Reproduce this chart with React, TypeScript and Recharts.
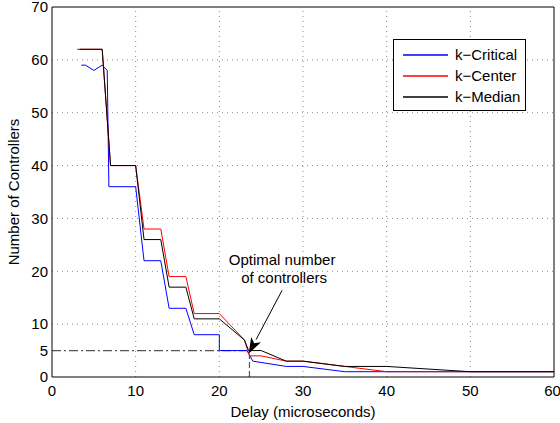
import React from 'react';
import { LineChart, Line, XAxis, YAxis, ReferenceLine } from 'recharts';

// k-Critical (blue)
const criticalDelay = [3.5, 4, 5, 6, 6.6, 6.8, 10, 11, 13, 14, 16, 17, 20, 20, 23.3, 24, 28, 30, 35, 60];
const criticalCount = [59, 59, 58, 59, 58, 36, 36, 22, 22, 13, 13, 8, 8, 5, 5, 3, 2, 2, 1, 1];

// k-Center (red)
const centerDelay = [3, 6, 7, 10, 11, 13, 14, 16, 17, 20, 23, 23.6, 25, 28, 30, 35, 40, 60];
const centerCount = [62, 62, 40, 40, 28, 28, 19, 19, 12, 12, 7, 4, 4, 3, 3, 2, 1, 1];

// k-Median (black)
const medianDelay = [3.3, 6, 7, 10, 11, 13, 14, 16, 17, 20, 23, 23.5, 25, 28, 30, 35, 40, 50, 60];
const medianCount = [62, 62, 40, 40, 26, 26, 17, 17, 11, 11, 7, 5, 5, 3, 3, 2, 2, 1, 1];

const seriesNames = ['k−Critical', 'k−Center', 'k−Median'];
const seriesColors = ['#0000ff', '#ff0000', '#000000'];

const xTicks = [0, 10, 20, 30, 40, 50, 60];
const yTicks = [0, 5, 10, 20, 30, 40, 50, 60, 70];
const xGrid = [10, 20, 30, 40, 50];
const yGrid = [10, 20, 30, 40, 50, 60];

const optimalDelay = 23.5;
const optimalCount = 5;

const toRows = (xs: number[], ys: number[]) => xs.map((x, i) => ({ x, y: ys[i] }));

const FONT = '"Liberation Sans", Arial, Helvetica, sans-serif';

const ArrowShape = (props: any) => {
  const { x1, y1, x2, y2 } = props;
  const ang = Math.atan2(y2 - y1, x2 - x1);
  const len = 16;
  const w = 5.5;
  const bx = x2 - len * Math.cos(ang);
  const by = y2 - len * Math.sin(ang);
  const px = -Math.sin(ang) * w;
  const py = Math.cos(ang) * w;
  return (
    <g>
      <line x1={x1} y1={y1} x2={bx} y2={by} stroke="#000" strokeWidth={1} />
      <polygon points={`${x2},${y2} ${bx + px},${by + py} ${bx + (x2 - bx) * 0.25},${by + (y2 - by) * 0.25} ${bx - px},${by - py}`} fill="#000" />
      <text x={x1} y={y1 - 25} textAnchor="middle" fontSize={15} fontFamily={FONT} fill="#000">Optimal number</text>
      <text x={x1 + 2} y={y1 - 7} textAnchor="middle" fontSize={15} fontFamily={FONT} fill="#000">of controllers</text>
    </g>
  );
};

export default function App() {
  return (
    <div style={{ position: 'absolute', left: 0, top: 0, width: 560, height: 423, background: '#fff' }}>
      <LineChart width={560} height={423} margin={{ top: 7, right: 6, left: 0, bottom: 0 }}>
        <XAxis
          dataKey="x"
          type="number"
          domain={[0, 60]}
          ticks={xTicks}
          allowDuplicatedCategory={false}
          stroke="#000"
          tickLine={false}
          tick={{ fill: '#000', fontSize: 15, fontFamily: FONT }}
          height={46}
          label={{ value: 'Delay (microseconds)', position: 'insideBottom', offset: 6, fill: '#000', fontSize: 15, fontFamily: FONT }}
        />
        <YAxis
          type="number"
          domain={[0, 70]}
          ticks={yTicks}
          interval={0}
          stroke="#000"
          tickLine={false}
          tickSize={2}
          tickMargin={2}
          tick={{ fill: '#000', fontSize: 15, fontFamily: FONT }}
          width={52}
          label={{ value: 'Number of Controllers', angle: -90, position: 'insideLeft', offset: 14, fill: '#000', fontSize: 15, fontFamily: FONT, style: { textAnchor: 'middle' } }}
        />
        {xGrid.map((v) => (
          <ReferenceLine key={`gx${v}`} x={v} stroke="#888" strokeDasharray="1 4" />
        ))}
        {yGrid.map((v) => (
          <ReferenceLine key={`gy${v}`} y={v} stroke="#888" strokeDasharray="1 4" />
        ))}
        <ReferenceLine y={70} stroke="#000" />
        <ReferenceLine x={60} stroke="#000" />
        <ReferenceLine
          segment={[{ x: 0, y: optimalCount }, { x: 23.3, y: optimalCount }]}
          stroke="#555"
          strokeWidth={1.2}
          strokeDasharray="9 3 2 3"
        />
        <ReferenceLine
          segment={[{ x: optimalDelay + 0.1, y: 0 }, { x: optimalDelay + 0.1, y: 4 }]}
          stroke="#555"
          strokeWidth={1.2}
          strokeDasharray="6 3"
        />
        <Line data={toRows(criticalDelay, criticalCount)} dataKey="y" name={seriesNames[0]} stroke={seriesColors[0]} strokeWidth={1} dot={false} isAnimationActive={false} />
        <Line data={toRows(centerDelay, centerCount)} dataKey="y" name={seriesNames[1]} stroke={seriesColors[1]} strokeWidth={1} dot={false} isAnimationActive={false} />
        <Line data={toRows(medianDelay, medianCount)} dataKey="y" name={seriesNames[2]} stroke={seriesColors[2]} strokeWidth={1} dot={false} isAnimationActive={false} />
        <ReferenceLine
          segment={[{ x: 27.5, y: 16.4 }, { x: optimalDelay, y: 4.4 }]}
          shape={ArrowShape}
        />
      </LineChart>
      <div
        style={{
          position: 'absolute', left: 393, top: 39, width: 133, height: 72,
          border: '1px solid #000', background: '#fff', fontFamily: FONT, fontSize: 15,
          padding: '4px 0 0 9px', boxSizing: 'border-box',
        }}
      >
        {seriesNames.map((name, i) => (
          <div key={name} style={{ display: 'flex', alignItems: 'center', height: 21 }}>
            <svg width={45} height={4} style={{ marginRight: 7, display: 'block' }}>
              <line x1={0} y1={2} x2={45} y2={2} stroke={seriesColors[i]} strokeWidth={1.3} />
            </svg>
            <span style={{ color: '#000' }}>{name}</span>
          </div>
        ))}
      </div>
    </div>
  );
}
